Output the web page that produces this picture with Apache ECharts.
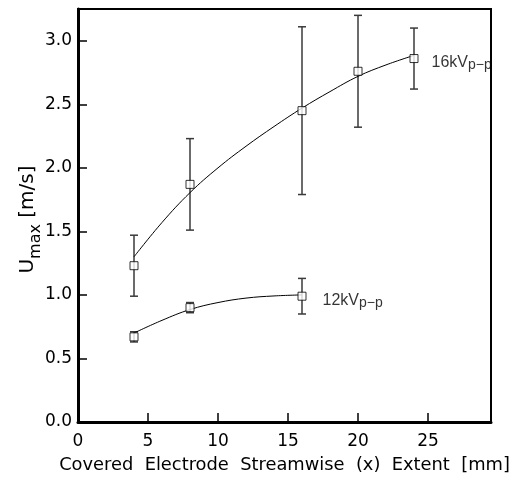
<!DOCTYPE html>
<html><head><meta charset="utf-8">
<script src="https://cdn.jsdelivr.net/npm/echarts@6/dist/echarts.min.js"></script>
<style>html,body{margin:0;padding:0;background:#fff}#c{width:511px;height:479px}</style>
</head><body><div id="c"></div>
<script>
// ---- data ----
const x16 = [4, 8, 16, 20, 24];
const mean16 = [1.23, 1.87, 2.45, 2.76, 2.86];
const low16 = [0.99, 1.51, 1.79, 2.32, 2.62];
const high16 = [1.47, 2.23, 3.11, 3.20, 3.10];

const x12 = [4, 8, 16];
const mean12 = [0.67, 0.90, 0.99];
const low12 = [0.63, 0.86, 0.85];
const high12 = [0.71, 0.94, 1.13];

const fitX16 = [4, 6, 8, 10, 12, 14, 16, 18, 20, 22, 24];
const fitY16 = [1.30, 1.57, 1.805, 2.00, 2.17, 2.325, 2.47, 2.60, 2.72, 2.81, 2.885];
const fitX12 = [4, 6, 8, 10, 12, 14, 16];
const fitY12 = [0.70, 0.80, 0.885, 0.94, 0.975, 0.992, 1.00];

const seriesNames = ['16kV', '12kV'];
const subText = 'p\u2212p';

const xTitle = 'Covered  Electrode  Streamwise  (x)  Extent  [mm]';
const yTitleMain = 'U';
const yTitleSub = 'max';
const yTitleUnit = ' [m/s]';

// ---- build ----
const chart = echarts.init(document.getElementById('c'), null, {renderer: 'canvas'});
const TICKFONT = 'DejaVu Sans';
const LABFONT = "'Liberation Sans Narrow', 'Liberation Sans', Arial, sans-serif";

function zip(a, b) { return a.map((v, i) => [v, b[i]]); }
function errData(xs, lo, hi) { return xs.map((v, i) => [v, lo[i], hi[i]]); }

function errorSeries(name, data) {
  return {
    type: 'custom', name: name, z: 2,
    data: data,
    encode: {x: 0, y: [1, 2]},
    renderItem: function (params, api) {
      const x = api.value(0), lo = api.value(1), hi = api.value(2);
      const p1 = api.coord([x, hi]);
      const p2 = api.coord([x, lo]);
      const hw = 4;
      const st = {stroke: '#3a3a3a', lineWidth: 1.5};
      return {type: 'group', children: [
        {type: 'line', shape: {x1: p1[0], y1: p1[1], x2: p2[0], y2: p2[1]}, style: st},
        {type: 'line', shape: {x1: p1[0] - hw, y1: p1[1], x2: p1[0] + hw, y2: p1[1]}, style: st},
        {type: 'line', shape: {x1: p2[0] - hw, y1: p2[1], x2: p2[0] + hw, y2: p2[1]}, style: st}
      ]};
    }
  };
}

const labelRich = {
  a: {fontFamily: LABFONT, fontSize: 16, color: '#000'},
  s: {fontFamily: "'Liberation Sans', Arial, sans-serif", fontSize: 14, color: '#000', padding: [6, 0, 0, 0]}
};

function pointSeries(name, data, dist) {
  const last = data.length - 1;
  return {
    type: 'scatter', name: name, z: 4,
    data: data,
    symbol: 'rect', symbolSize: 8,
    itemStyle: {color: '#fff', borderColor: '#000', borderWidth: 1},
    label: {
      show: true, position: 'right', distance: dist, offset: [0, 4], color: '#000',
      formatter: function (p) { return p.dataIndex === last ? '{a|' + name + '}{s|' + subText + '}' : ''; },
      rich: labelRich
    },
    emphasis: {disabled: true}
  };
}

function fitSeries(data) {
  return {
    type: 'line', z: 3, data: data, smooth: 0.4, symbol: 'none',
    lineStyle: {color: '#000', width: 1}, silent: true
  };
}

const option = {
  backgroundColor: '#fff',
  animation: false,
  grid: {left: 78, top: 9, width: 413, height: 413, containLabel: false, outerBoundsMode: 'none',
    show: true, borderColor: '#000', borderWidth: 2, backgroundColor: 'transparent'},
  xAxis: {
    type: 'value', min: 0, max: 29.5, interval: 5,
    name: xTitle, nameLocation: 'middle', nameGap: 34, nameMoveOverlap: false,
    nameTextStyle: {fontFamily: TICKFONT, fontSize: 17.85, color: '#000'},
    axisLine: {show: true, lineStyle: {color: '#000', width: 3}},
    axisTick: {show: true, inside: true, length: 9, lineStyle: {color: '#000', width: 1.5}},
    axisLabel: {margin: 11, fontFamily: TICKFONT, fontSize: 17, color: '#000', showMaxLabel: false,
      formatter: v => (v % 5 === 0 ? String(v) : '')},
    splitLine: {show: false}
  },
  yAxis: {
    type: 'value', min: 0, max: 3.25, interval: 0.5,
    name: '{u|' + yTitleMain + '}{s|' + yTitleSub + '}{e|' + yTitleUnit + '}',
    nameLocation: 'middle', nameRotate: 90, nameGap: 34, nameMoveOverlap: false,
    nameTextStyle: {
      color: '#000',
      rich: {
        u: {fontFamily: TICKFONT, fontSize: 20, color: '#000'},
        s: {fontFamily: TICKFONT, fontSize: 16, color: '#000', padding: [17, 0, 0, 0]},
        e: {fontFamily: TICKFONT, fontSize: 20, color: '#000', padding: [0, 8, 0, 0]}
      }
    },
    axisLine: {show: true, lineStyle: {color: '#000', width: 3}},
    axisTick: {show: true, inside: true, length: 9, lineStyle: {color: '#000', width: 1.5}},
    axisLabel: {margin: 6, fontFamily: TICKFONT, fontSize: 17, color: '#000', showMaxLabel: false,
      formatter: v => (Math.abs(v / 0.5 - Math.round(v / 0.5)) < 1e-6 ? v.toFixed(1) : '')},
    splitLine: {show: false}
  },
  series: [
    errorSeries('e16', errData(x16, low16, high16)),
    errorSeries('e12', errData(x12, low12, high12)),
    fitSeries(zip(fitX16, fitY16)),
    fitSeries(zip(fitX12, fitY12)),
    pointSeries(seriesNames[0], zip(x16, mean16), 13),
    pointSeries(seriesNames[1], zip(x12, mean12), 16)
  ]
};
chart.setOption(option);
</script>
</body></html>
